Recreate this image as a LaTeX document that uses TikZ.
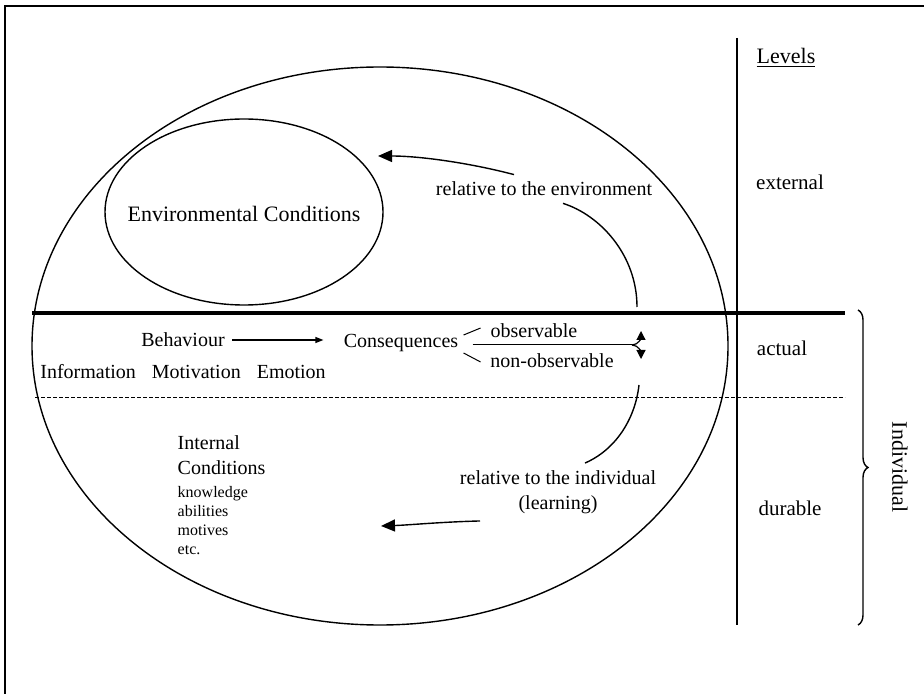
\documentclass[tikz,border=0pt]{standalone}
\usepackage{fontspec}
\setmainfont{Liberation Serif}
\usetikzlibrary{arrows.meta, decorations.pathreplacing, positioning}

\tikzset{
	lbl/.style = {font = \fontsize{10}{12.5}\selectfont},
	lvl/.style = {font = \fontsize{10.5}{12.5}\selectfont},
	bigarr/.style = {line width = 0.7pt, -{Triangle[length = 7pt, width = 6pt]}},
	smallarr/.style = {line width = 0.6pt, -{Triangle[length = 4pt, width = 3pt]}},
	forkarr/.style = {line width = 0.6pt, -{Triangle[length = 4.5pt, width = 4.5pt]}}
}

\begin{document}
\begin{tikzpicture}[x = 0.5pt, y = -0.5pt, line width = 0.7pt]
	\useasboundingbox (0, 0) rectangle (924, 694);
	\draw[line width = 0.8pt] (924, 6) -- (5, 6) -- (5, 694);
	
	% main ellipse and environment
	\draw (380, 346) ellipse (348 and 279);
	\draw (244, 212) ellipse (139 and 93);
	\node[font = \fontsize{11}{13}\selectfont] (env) at (244, 214) {Environmental Conditions};
	
	% level separators
	\draw (737, 38) -- (737, 625);
	\draw[line width = 2pt] (32, 313) -- (845, 313);
	\draw[line width = 0.5pt, dash pattern = on 2pt off 1pt] (35, 397) -- (845, 397);
	
	% levels column
	\node[font = \fontsize{11}{13}\selectfont] (levels) at (786, 58) {\underline{Levels}};
	\node[lvl] (external) at (790, 182) {external};
	\node[lvl] (actual) at (782, 348) {actual};
	\node[lvl] (durable) at (790, 508) {durable};
	\draw[decorate, decoration = {brace, amplitude = 5pt}] (858, 310) -- (858, 625);
	\node[rotate = -90, font = \fontsize{11}{13}\selectfont] (indiv) at (900, 467) {Individual};
	
	% actual level
	\node[lbl] (beh) at (183, 340) {Behaviour};
	\node[lbl] (info) at (183, 372) {Information\hspace{0.8em}Motivation\hspace{0.8em}Emotion};
	\node[lbl] (cons) at (401, 343) {Consequences};
	\node[lbl] (obs) at (534, 331) {observable};
	\node[lbl] (nobs) at (552, 361) {non-observable};
	\draw[smallarr, shorten > = 6.5pt] (beh.east) -- (beh.east -| cons.west);
	\draw[line width = 0.5pt] ([shift = {(-1pt, 4pt)}]cons.east) -- ++(8.5pt, 3.5pt);
	\draw[line width = 0.5pt] ([shift = {(-1pt, -5pt)}]cons.east) -- ++(8.5pt, -4.5pt);
	\coordinate (fork) at (632, 345);
	\draw[line width = 0.5pt] ([xshift = 3.5pt]cons.east |- fork) -- (fork);
	\draw[forkarr] (fork) to[out = 0, in = -90] (641, 331);
	\draw[forkarr] (fork) to[out = 0, in = 90] (641, 359);
	
	% feedback to the environment
	\node[lbl] (renv) at (544, 189) {relative to the environment};
	\coordinate (envarc) at (637, 307);
	\coordinate (envtip) at (378, 156);
	\draw (envarc) .. controls (637, 255) and (600, 215) .. ([xshift = 9.5pt]renv.south);
	\draw[bigarr] ([xshift = -15pt]renv.north) .. controls (470, 163) and (420, 156) .. (envtip);
	
	% feedback to the individual
	\node[lbl, align = center] (rind) at (558, 492) {relative to the individual\\(learning)};
	\coordinate (indarc) at (639, 385);
	\coordinate (indtip) at (381, 526);
	\draw (indarc) .. controls (635, 420) and (615, 450) .. ([xshift = 13.5pt]rind.north);
	\draw[bigarr] ([xshift = -39pt]rind.south) .. controls (440, 522) and (410, 525) .. (indtip);
	
	% internal conditions
	\node[lbl, align = left, anchor = north west, inner sep = 0pt] (intc) at (177, 435) {Internal\\Conditions};
	\node[align = left, inner sep = 0pt, font = \fontsize{8}{9.5}\selectfont, below right = 5pt and 0pt of intc.south west] (items) {knowledge\\abilities\\motives\\etc.};
\end{tikzpicture}
\end{document}
